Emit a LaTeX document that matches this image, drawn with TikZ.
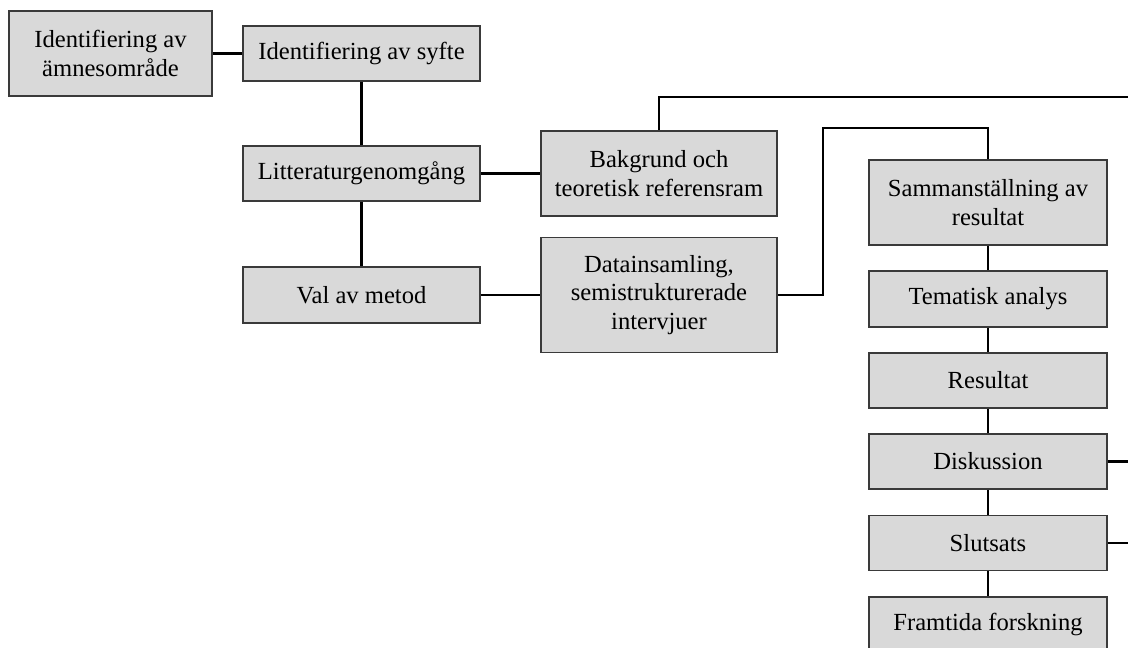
\documentclass[tikz,border=0pt]{standalone}
\usepackage{fontspec}
\setmainfont{Liberation Serif}
\definecolor{boxfill}{HTML}{D9D9D9}
\definecolor{boxline}{HTML}{3A3A3A}

\begin{document}
\begin{tikzpicture}[x=0.5pt,y=-0.5pt,
  box/.style={draw=boxline,fill=boxfill,line width=0.9pt,align=center,
    inner sep=0pt,font=\fontsize{12.3}{14.2}\selectfont},
  link/.style={line width=1.2pt,color=black}]

%Picture frame, cut at the lower and right border
\clip (0,0) rectangle (1128,647);

%Define box sizes
\def\bw{118.5pt}        %Width of the main boxes.
\def\bh{27.5pt}         %Height of a one line box.
\def\bhh{42.5pt}        %Height of a two line box.

% Left column
\node[box,minimum width=101.5pt,minimum height=\bhh] (amne) at (110.5,53.5) {Identifiering av\\ämnesområde};
\node[box,minimum width=\bw,minimum height=\bh] (syfte) at (361.5,53.5) {Identifiering av syfte};
\node[box,minimum width=\bw,minimum height=\bh] (litt) at (361.5,173.5) {Litteraturgenomgång};
\node[box,minimum width=\bw,minimum height=28pt] (metod) at (361.5,295) {Val av metod};

% Middle column
\node[box,minimum width=118pt,minimum height=\bhh] (bakgrund) at (659,173.5) {Bakgrund och\\teoretisk referensram};
\node[box,minimum width=118pt,minimum height=57.5pt] (data) at (659,295) {Datainsamling,\\semistrukturerade\\intervjuer};

% Right column
\node[box,minimum width=119pt,minimum height=\bhh] (samman) at (988,202.5) {Sammanställning av\\resultat};
\node[box,minimum width=119pt,minimum height=28pt] (tema) at (988,299) {Tematisk analys};
\node[box,minimum width=119pt,minimum height=\bh] (resultat) at (988,380.5) {Resultat};
\node[box,minimum width=119pt,minimum height=\bh] (disk) at (988,461.5) {Diskussion};
\node[box,minimum width=119pt,minimum height=\bh] (slut) at (988,543) {Slutsats};
\node[box,minimum width=119pt,minimum height=\bh] (framtid) at (988,624.5) {Framtida forskning};

% Define coordinates
\coordinate (topright) at (1128,97);
\coordinate (bend) at (823,128);
\coordinate (diskend) at (1128,461.5);
\coordinate (slutend) at (1128,543);

% Connectors
\draw[link] (amne.east) -- (syfte.west);
\draw[link] (syfte.south) -- (litt.north);
\draw[link] (litt.south) -- (metod.north);
\draw[link] (litt.east) -- (bakgrund.west);
\draw[link] (metod.east) -- (data.west);
\draw[link] (bakgrund.north) |- (topright);
\draw[link] (data.east) -| (bend) -| (samman.north);
\draw[link] (samman.south) -- (tema.north);
\draw[link] (tema.south) -- (resultat.north);
\draw[link] (resultat.south) -- (disk.north);
\draw[link] (disk.south) -- (slut.north);
\draw[link] (slut.south) -- (framtid.north);
\draw[link] (disk.east) -- (diskend);
\draw[link] (slut.east) -- (slutend);

\end{tikzpicture}
\end{document}
